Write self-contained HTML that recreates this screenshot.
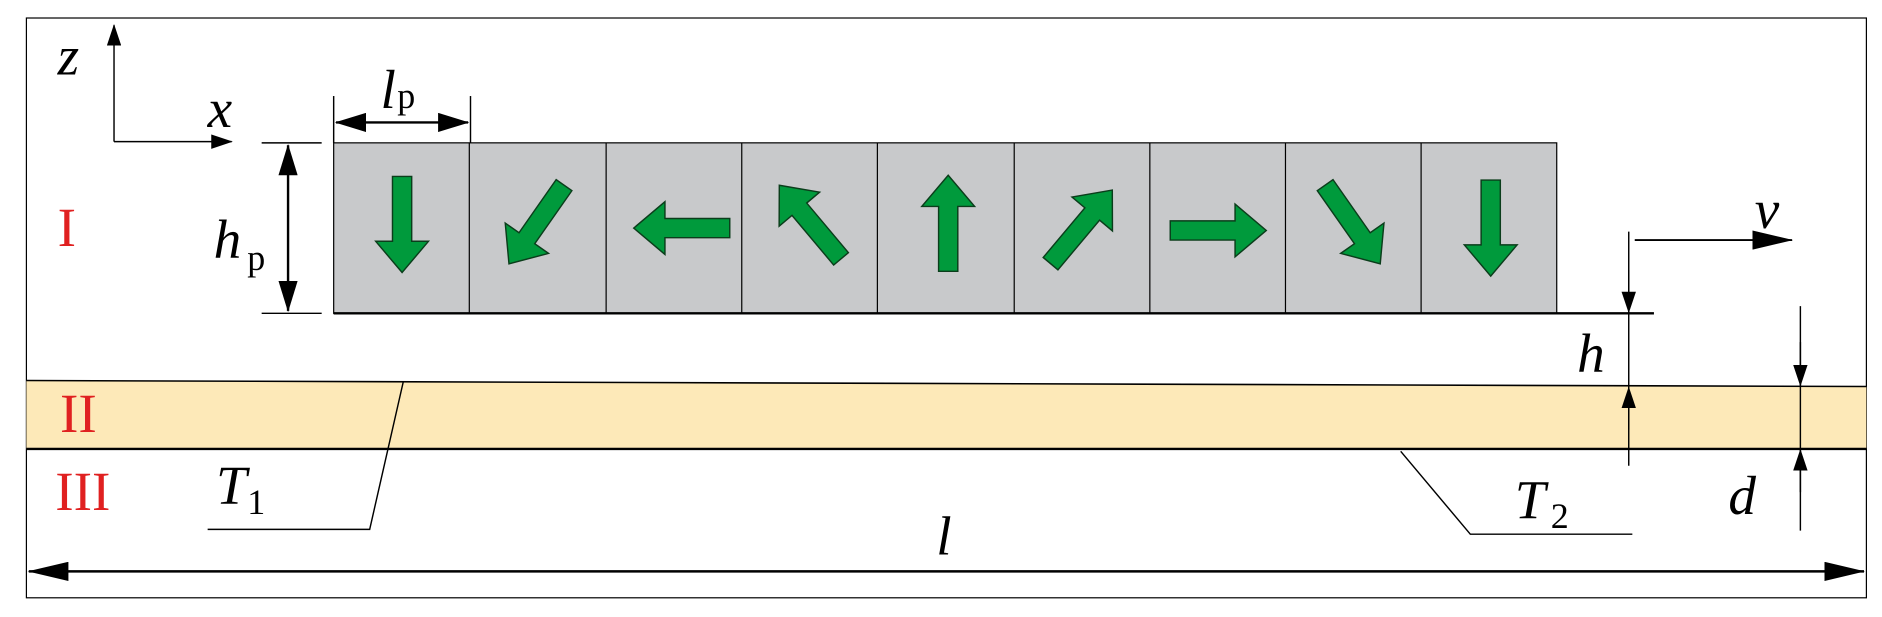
<!DOCTYPE html>
<html><head><style>html,body{margin:0;padding:0;background:#fff}svg{display:block}</style></head>
<body>
<svg width="1882" height="617" viewBox="0 0 1568 514" preserveAspectRatio="none" xmlns="http://www.w3.org/2000/svg" font-family="'Liberation Serif', serif">
<defs>
<marker id="ah" markerWidth="18" markerHeight="12" refX="17" refY="6" orient="auto" markerUnits="userSpaceOnUse"><path d="M0,0 L18,6 L0,12 z" fill="#000"/></marker>
<marker id="ahb" markerWidth="34" markerHeight="16" refX="33" refY="8" orient="auto-start-reverse" markerUnits="userSpaceOnUse"><path d="M0,0 L34,8 L0,16 z" fill="#000"/></marker>
<marker id="ahm" markerWidth="26" markerHeight="16" refX="25" refY="8" orient="auto-start-reverse" markerUnits="userSpaceOnUse"><path d="M0,0 L26,8 L0,16 z" fill="#000"/></marker>
<g id="ga"><path d="M-40,-8 L14,-8 L14,-22 L40,0 L14,22 L14,8 L-40,8 z" fill="#009a3c" stroke="#0b3d1b" stroke-width="1.2"/></g>
</defs>
<rect x="22" y="15" width="1533" height="483" fill="none" stroke="#000" stroke-width="1"/>
<path d="M22,317 L1555,322 L1555,374 L22,374 z" fill="#fde9b8"/>
<line x1="22" y1="317" x2="1555" y2="322" stroke="#000" stroke-width="1.3"/>
<line x1="22" y1="374" x2="1555" y2="374" stroke="#000" stroke-width="2"/>
<rect x="278" y="119" width="1019" height="142" fill="#c8c9cb" stroke="#000" stroke-width="1"/>
<g stroke="#000" stroke-width="1">
<line x1="391" y1="119" x2="391" y2="261"/><line x1="505" y1="119" x2="505" y2="261"/><line x1="618" y1="119" x2="618" y2="261"/><line x1="731" y1="119" x2="731" y2="261"/><line x1="845" y1="119" x2="845" y2="261"/><line x1="958" y1="119" x2="958" y2="261"/><line x1="1071" y1="119" x2="1071" y2="261"/><line x1="1184" y1="119" x2="1184" y2="261"/>
</g>
<line x1="278" y1="261" x2="1378" y2="261" stroke="#000" stroke-width="2"/>
<use href="#ga" transform="translate(335,187) rotate(90)"/>
<use href="#ga" transform="translate(447,187) rotate(125)"/>
<use href="#ga" transform="translate(568,190) rotate(180)"/>
<use href="#ga" transform="translate(675,185) rotate(-130)"/>
<use href="#ga" transform="translate(790,186) rotate(-90)"/>
<use href="#ga" transform="translate(901,189) rotate(-50)"/>
<use href="#ga" transform="translate(1015,192) rotate(0)"/>
<use href="#ga" transform="translate(1127,187) rotate(55)"/>
<use href="#ga" transform="translate(1242,190) rotate(90)"/>
<g stroke="#000" stroke-width="1.2" fill="none">
<line x1="95" y1="118" x2="95" y2="21" marker-end="url(#ah)"/>
<line x1="95" y1="118" x2="193" y2="118" marker-end="url(#ah)"/>
<line x1="278" y1="80" x2="278" y2="119"/><line x1="392" y1="80" x2="392" y2="119"/>
<line x1="280" y1="102" x2="390" y2="102" stroke-width="2" marker-start="url(#ahm)" marker-end="url(#ahm)"/>
<line x1="218" y1="119" x2="268" y2="119"/><line x1="218" y1="261" x2="268" y2="261"/>
<line x1="240" y1="121" x2="240" y2="259" stroke-width="2" marker-start="url(#ahm)" marker-end="url(#ahm)"/>
<line x1="1362" y1="200" x2="1493" y2="200" stroke-width="1.5" marker-end="url(#ahb)"/>
<line x1="1357" y1="193" x2="1357" y2="388"/>
<line x1="1357" y1="225" x2="1357" y2="260" marker-end="url(#ah)"/>
<line x1="1357" y1="358" x2="1357" y2="323" marker-end="url(#ah)"/>
<line x1="1500" y1="255" x2="1500" y2="442"/>
<line x1="1500" y1="285" x2="1500" y2="321" marker-end="url(#ah)"/>
<line x1="1500" y1="410" x2="1500" y2="375" marker-end="url(#ah)"/>
<line x1="24" y1="476" x2="1553" y2="476" stroke-width="2" marker-start="url(#ahb)" marker-end="url(#ahb)"/>
<polyline points="336,318 308,441 173,441"/>
<polyline points="1167,376 1225,445 1360,445"/>
</g>
<g font-style="italic" font-size="46" fill="#000">
<text x="48" y="62">z</text>
<text x="173" y="106">x</text>
<text x="317" y="90">l</text>
<text x="178" y="215">h</text>
<text x="1462" y="190">v</text>
<text x="1314" y="310">h</text>
<text x="1440" y="428">d</text>
<text x="780" y="462">l</text>
<text x="180" y="420">T</text>
<text x="1262" y="432">T</text>
</g>
<g font-size="30" fill="#000">
<text x="331" y="90">p</text>
<text x="206" y="225">p</text>
<text x="206" y="428">1</text>
<text x="1292" y="440">2</text>
</g>
<g font-size="46" fill="#e02020">
<text x="48" y="205">I</text>
<text x="50" y="360">II</text>
<text x="46" y="425">III</text>
</g>
</svg>
</body></html>
